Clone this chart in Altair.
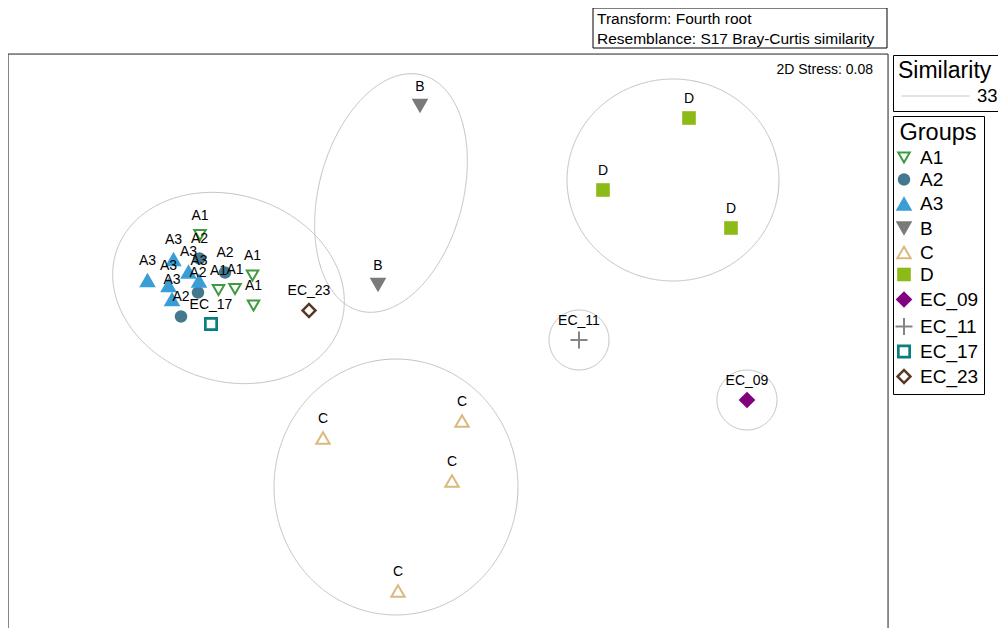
import altair as alt
import pandas as pd
import numpy as np

# ---------------- data ----------------
# sample positions (plot units, x to the right, y downward from the frame top-left)
sample_group = ["A1", "A1", "A1", "A1", "A1",
                "A2", "A2", "A2", "A2",
                "A3", "A3", "A3", "A3", "A3", "A3",
                "B", "B",
                "C", "C", "C", "C",
                "D", "D", "D",
                "EC_09", "EC_11", "EC_17", "EC_23"]
mds_x = [192, 244.5, 210.5, 227, 245.5,
         191.5, 217, 190, 173,
         165.5, 180.5, 191, 139.5, 160.5, 164,
         412, 370,
         315, 454, 444, 390,
         681, 595, 723,
         739, 571, 203, 301]
mds_y = [181, 221.5, 236, 235, 251.5,
         204.5, 218.5, 238.5, 262.5,
         205, 217.5, 226.5, 226, 231, 245,
         52, 231,
         384, 367, 427, 537,
         64, 136, 174,
         346, 286, 270, 256.5]

# similarity (33) contours: centre, semi-axes, tilt (degrees)
hull_name = ["A", "B", "D", "EC_11", "EC_09", "C"]
hull_cx = [220.5, 383, 665, 571, 739, 388]
hull_cy = [234, 139, 126, 286, 346, 433]
hull_rx = [118, 72, 106, 30, 30, 122]
hull_ry = [93, 122, 101, 30, 30, 128]
hull_tilt = [18, 15, 0, 0, 0, 0]
similarity_level = "33"

group_names = ["A1", "A2", "A3", "B", "C", "D", "EC_09", "EC_11", "EC_17", "EC_23"]
info_lines = ["Transform: Fourth root", "Resemblance: S17 Bray-Curtis similarity"]
stress_text = "2D Stress: 0.08"

# ---------------- styles ----------------
def poly(r, n=36):
    pts = [(r * np.cos(2 * np.pi * k / n), r * np.sin(2 * np.pi * k / n)) for k in range(n)]
    return "M" + "L".join(f"{x:.3f},{y:.3f}" for x, y in pts) + "Z"

group_shapes = [
    "M-0.575,-0.5L0.575,-0.5L0,0.5Z",                      # A1 open triangle down
    poly(0.62),                                               # A2 circle
    "M0,-0.72L0.83,0.72L-0.83,0.72Z",                        # A3 triangle up
    "M-0.83,-0.72L0.83,-0.72L0,0.72Z",                       # B triangle down
    "M0,-0.58L0.67,0.58L-0.67,0.58Z",                        # C open triangle up
    "M-0.68,-0.68L0.68,-0.68L0.68,0.68L-0.68,0.68Z",         # D square
    "M0,-0.83L0.83,0L0,0.83L-0.83,0Z",                       # EC_09 diamond
    "M-0.85,0L0.85,0M0,-0.85L0,0.85",                        # EC_11 plus
    "M-0.7,-0.7L0.7,-0.7L0.7,0.7L-0.7,0.7Z"
    "M-0.43,-0.43L-0.43,0.43L0.43,0.43L0.43,-0.43Z",         # EC_17 open square
    "M0,-0.82L0.82,0L0,0.82L-0.82,0Z"
    "M0,-0.47L-0.47,0L0,0.47L0.47,0Z",                       # EC_23 open diamond
]
group_fill = ["transparent", "#43788f", "#3a9ed6", "#7a7a7a", "transparent",
              "#8cba16", "#800080", "transparent", "#0a7f7f", "#5a3725"]
group_stroke = ["#3e9b41", "transparent", "transparent", "transparent", "#d8b97e",
                "transparent", "transparent", "#858585", "transparent", "transparent"]

W, H = 880, 574
FONT = "Liberation Sans"

pts = pd.DataFrame({"x": mds_x, "y": mds_y, "group": sample_group})

rows = []
phi = np.linspace(0, 2 * np.pi, 121)
for n, cx, cy, rx, ry, t in zip(hull_name, hull_cx, hull_cy, hull_rx, hull_ry, hull_tilt):
    th = np.radians(t)
    ex = cx + rx * np.cos(phi) * np.cos(th) - ry * np.sin(phi) * np.sin(th)
    ey = cy + rx * np.cos(phi) * np.sin(th) + ry * np.sin(phi) * np.cos(th)
    for i, (a, b) in enumerate(zip(ex, ey)):
        rows.append({"hull": n, "i": i, "x": a, "y": b, "sim": similarity_level})
hulls = pd.DataFrame(rows)

xs = alt.Scale(domain=[0, W], nice=False, zero=False)
ys = alt.Scale(domain=[0, H], nice=False, zero=False, reverse=True)

sim_legend = alt.Legend(title="Similarity", orient="none", legendX=885, legendY=1,
                        symbolType="stroke", symbolSize=4624, symbolStrokeColor="#c0c0c0",
                        symbolStrokeWidth=1, symbolOffset=3, clipHeight=18,
                        labelFontSize=18.5, labelFont=FONT, labelOffset=7,
                        titleFontSize=23, titleFont=FONT, titleFontWeight="normal",
                        titleAnchor="start", titlePadding=4, padding=5,
                        strokeColor="black", fillColor="white")

ellipses = alt.Chart(hulls).mark_line(color="#c0c0c0", strokeWidth=1).encode(
    x=alt.X("x:Q", scale=xs, axis=None),
    y=alt.Y("y:Q", scale=ys, axis=None),
    detail="hull:N",
    order=alt.Order("i:Q"),
    strokeDash=alt.StrokeDash("sim:N", scale=alt.Scale(domain=[similarity_level], range=[[1, 0]]),
                              legend=sim_legend),
)

grp_legend = alt.Legend(title="Groups", orient="none", legendX=885, legendY=62,
                        padding=5, strokeColor="black", fillColor="white",
                        titleFontSize=23.5, titleFont=FONT, titleFontWeight="normal",
                        titleAnchor="middle", titlePadding=2,
                        labelFontSize=19, labelFont=FONT, labelOffset=5,
                        symbolSize=400, symbolStrokeWidth=2, symbolOffset=-5, rowPadding=1)

points = alt.Chart(pts).mark_point(size=400, strokeWidth=2, opacity=1).encode(
    x=alt.X("x:Q", scale=xs, axis=None),
    y=alt.Y("y:Q", scale=ys, axis=None),
    shape=alt.Shape("group:N", scale=alt.Scale(domain=group_names, range=group_shapes), legend=grp_legend),
    fill=alt.Fill("group:N", scale=alt.Scale(domain=group_names, range=group_fill), legend=grp_legend),
    stroke=alt.Stroke("group:N", scale=alt.Scale(domain=group_names, range=group_stroke), legend=grp_legend),
)

labels = alt.Chart(pts).mark_text(dy=-15.5, fontSize=14, font=FONT, color="black",
                                  baseline="alphabetic").encode(
    x=alt.X("x:Q", scale=xs, axis=None),
    y=alt.Y("y:Q", scale=ys, axis=None),
    text="group:N",
)

one = alt.Data(values=[{"line1": info_lines[0], "line2": info_lines[1], "stress": stress_text}])

# plot frame (open at the bottom, where the reference is cut off)
frame_left = alt.Chart(one).mark_rule(color="#333333", strokeWidth=1).encode(
    x=alt.value(0), y=alt.value(0), y2=alt.value(H))
frame_right = alt.Chart(one).mark_rule(color="#333333", strokeWidth=1).encode(
    x=alt.value(W), y=alt.value(0), y2=alt.value(H))
frame_top = alt.Chart(one).mark_rule(color="#333333", strokeWidth=1).encode(
    x=alt.value(0), x2=alt.value(W), y=alt.value(0))

info_box = alt.Chart(one).mark_rect(fill="white", stroke="black", strokeWidth=1).encode(
    x=alt.value(585), x2=alt.value(879), y=alt.value(-46), y2=alt.value(-6))
info1 = alt.Chart(one).mark_text(align="left", baseline="alphabetic", fontSize=15.5, font=FONT,
                                 color="black").encode(
    x=alt.value(589), y=alt.value(-30.5), text="line1:N")
info2 = alt.Chart(one).mark_text(align="left", baseline="alphabetic", fontSize=15.5, font=FONT,
                                 color="black").encode(
    x=alt.value(589), y=alt.value(-10.5), text="line2:N")
stress = alt.Chart(one).mark_text(align="right", baseline="alphabetic", fontSize=14, font=FONT,
                                  color="black").encode(
    x=alt.value(865), y=alt.value(20), text="stress:N")

chart = alt.layer(ellipses, points, labels, frame_left, frame_right, frame_top,
                  info_box, info1, info2, stress).properties(
    width=W, height=H,
    autosize=alt.AutoSizeParams(type="none"),
    padding={"left": 0, "top": 46, "right": 110, "bottom": 0},
).configure_view(stroke=None).configure(font=FONT)

chart.save("out.html", embed_options={"renderer": "svg", "actions": False})
